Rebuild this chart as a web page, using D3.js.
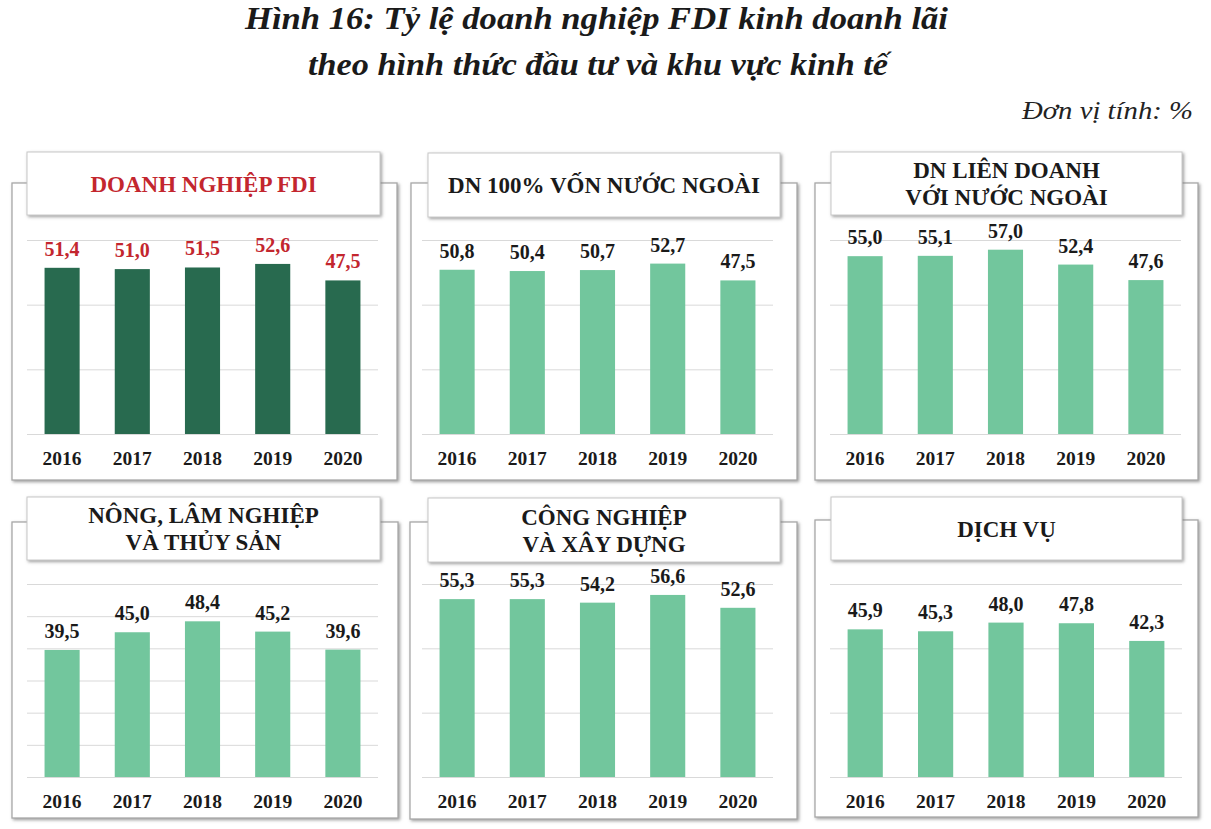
<!DOCTYPE html>
<html>
<head>
<meta charset="utf-8">
<script src="https://cdn.jsdelivr.net/npm/d3@7"></script>
<style>
  html, body { margin: 0; padding: 0; background: #fff; }
  svg { display: block; }
</style>
</head>
<body>
<div id="chart"></div>
<script>
// ---------------- DATA ----------------
const years = ["2016", "2017", "2018", "2019", "2020"];
const titleLines = ["Hình 16: Tỷ lệ doanh nghiệp FDI kinh doanh lãi", "theo hình thức đầu tư và khu vực kinh tế"];
const unitLabel = "Đơn vị tính: %";

const panelTitles = [
  ["DOANH NGHIỆP FDI"],
  ["DN 100% VỐN NƯỚC NGOÀI"],
  ["DN LIÊN DOANH", "VỚI NƯỚC NGOÀI"],
  ["NÔNG, LÂM NGHIỆP", "VÀ THỦY SẢN"],
  ["CÔNG NGHIỆP", "VÀ XÂY DỰNG"],
  ["DỊCH VỤ"]
];
const fdiValues      = [51.4, 51.0, 51.5, 52.6, 47.5];
const whollyForeign  = [50.8, 50.4, 50.7, 52.7, 47.5];
const jointVenture   = [55.0, 55.1, 57.0, 52.4, 47.6];
const agriculture    = [39.5, 45.0, 48.4, 45.2, 39.6];
const industry       = [55.3, 55.3, 54.2, 56.6, 52.6];
const services       = [45.9, 45.3, 48.0, 47.8, 42.3];
const panelSeries = [fdiValues, whollyForeign, jointVenture, agriculture, industry, services];
const gridTicks20 = [0, 20, 40, 60];
const gridTicks10 = [0, 10, 20, 30, 40, 50, 60];
const panelTicks = [gridTicks20, gridTicks20, gridTicks20, gridTicks10, gridTicks20, gridTicks20];

// ---------------- LAYOUT ----------------
const W = 1211, H = 829;
const layout = [
  { box: [12, 183, 385, 297], tbox: [27, 152, 353, 63], plot: [27, 240, 351, 194], yearY: 465, dark: true },
  { box: [411, 183, 386, 297], tbox: [428, 153, 352, 64], plot: [422, 240, 351, 194], yearY: 465 },
  { box: [815, 183, 383, 297], tbox: [831, 152, 351, 63], plot: [830, 240, 351, 194], yearY: 465 },
  { box: [12, 522, 386, 296], tbox: [27, 497, 353, 63], plot: [27, 584, 351, 193], yearY: 808 },
  { box: [410, 522, 387, 297], tbox: [428, 498, 352, 64], plot: [422, 584, 351, 193], yearY: 808 },
  { box: [815, 520, 383, 297], tbox: [831, 497, 351, 63], plot: [830, 584, 352, 193], yearY: 808 }
];
const darkGreen = "#286a4f", lightGreen = "#72c69d", red = "#c3262e";
const serif = "'Liberation Serif', 'Times New Roman', serif";

const svg = d3.select("#chart").append("svg").attr("width", W).attr("height", H);
const defs = svg.append("defs");
const f = defs.append("filter").attr("id", "shadow").attr("x", "-5%").attr("y", "-5%").attr("width", "110%").attr("height", "115%");
f.append("feDropShadow").attr("dx", 1.5).attr("dy", 1.5).attr("stdDeviation", 1.8)
  .attr("flood-color", "#7f7f7f").attr("flood-opacity", 0.75);

// Main title
const titleSpec = [{ x: 245, y: 29, len: 703 }, { x: 308, y: 75, len: 580 }];
svg.append("g").selectAll("text").data(titleLines).join("text")
  .attr("x", (d, i) => titleSpec[i].x).attr("y", (d, i) => titleSpec[i].y)
  .attr("font-family", serif).attr("font-style", "italic").attr("font-weight", "bold")
  .attr("font-size", 31).attr("fill", "#1a1a1a")
  .attr("textLength", (d, i) => titleSpec[i].len)
  .attr("lengthAdjust", "spacingAndGlyphs")
  .text(d => d);

svg.append("text").attr("x", 1022).attr("y", 119)
  .attr("font-family", serif).attr("font-style", "italic").attr("font-size", 26).attr("fill", "#222")
  .attr("textLength", 171).attr("lengthAdjust", "spacingAndGlyphs")
  .text(unitLabel);

layout.forEach((L, i) => {
  const g = svg.append("g");
  const values = panelSeries[i];
  // outer box
  g.append("rect").attr("x", L.box[0]).attr("y", L.box[1]).attr("width", L.box[2]).attr("height", L.box[3])
    .attr("fill", "#fff").attr("stroke", "#a8a8a8").attr("stroke-width", 1.3).attr("filter", "url(#shadow)");

  const [px, py, pw, ph] = L.plot;
  const x = d3.scaleBand().domain(years).range([px, px + pw]).paddingInner(0.5).paddingOuter(0.25);
  const y = d3.scaleLinear().domain([0, 60]).range([py + ph, py]);

  // gridlines
  g.append("g").call(d3.axisLeft(y).tickValues(panelTicks[i]).tickSize(-pw).tickFormat(""))
    .attr("transform", `translate(${px},0)`)
    .call(a => a.select(".domain").remove())
    .call(a => a.selectAll("line").attr("stroke", "#d9d9d9").attr("stroke-width", 1));

  // bars
  g.append("g").selectAll("rect").data(values).join("rect")
    .attr("x", (d, j) => x(years[j])).attr("width", x.bandwidth())
    .attr("y", d => y(d)).attr("height", d => y(0) - y(d))
    .attr("fill", L.dark ? darkGreen : lightGreen);

  // value labels
  g.append("g").selectAll("text").data(values).join("text")
    .attr("x", (d, j) => x(years[j]) + x.bandwidth() / 2)
    .attr("y", d => y(d) - 12)
    .attr("text-anchor", "middle")
    .attr("font-family", serif).attr("font-weight", "bold").attr("font-size", 20)
    .attr("fill", L.dark ? red : "#1a1a1a")
    .text(d => d.toFixed(1).replace(".", ","));

  // x axis labels
  const xa = g.append("g").attr("transform", `translate(0,${L.yearY - 14})`)
    .call(d3.axisBottom(x).tickSize(0).tickPadding(0));
  xa.select(".domain").remove();
  xa.selectAll("text").attr("font-family", serif).attr("font-weight", "bold").attr("font-size", 19.5)
    .attr("fill", "#1a1a1a").attr("dy", "0.71em");

  // title box
  g.append("rect").attr("x", L.tbox[0]).attr("y", L.tbox[1]).attr("width", L.tbox[2]).attr("height", L.tbox[3])
    .attr("fill", "#fff").attr("stroke", "#c8c8c8").attr("stroke-width", 1).attr("filter", "url(#shadow)");
  const lines = panelTitles[i];
  const cx = L.tbox[0] + L.tbox[2] / 2, cy = L.tbox[1] + L.tbox[3] / 2;
  g.append("g").selectAll("text").data(lines).join("text")
    .attr("x", cx)
    .attr("y", (d, k) => cy + 8 + (k - (lines.length - 1) / 2) * 27)
    .attr("text-anchor", "middle")
    .attr("font-family", serif).attr("font-weight", "bold").attr("font-size", 23)
    .attr("fill", L.dark ? red : "#1a1a1a")
    .text(d => d);
});
</script>
</body>
</html>
